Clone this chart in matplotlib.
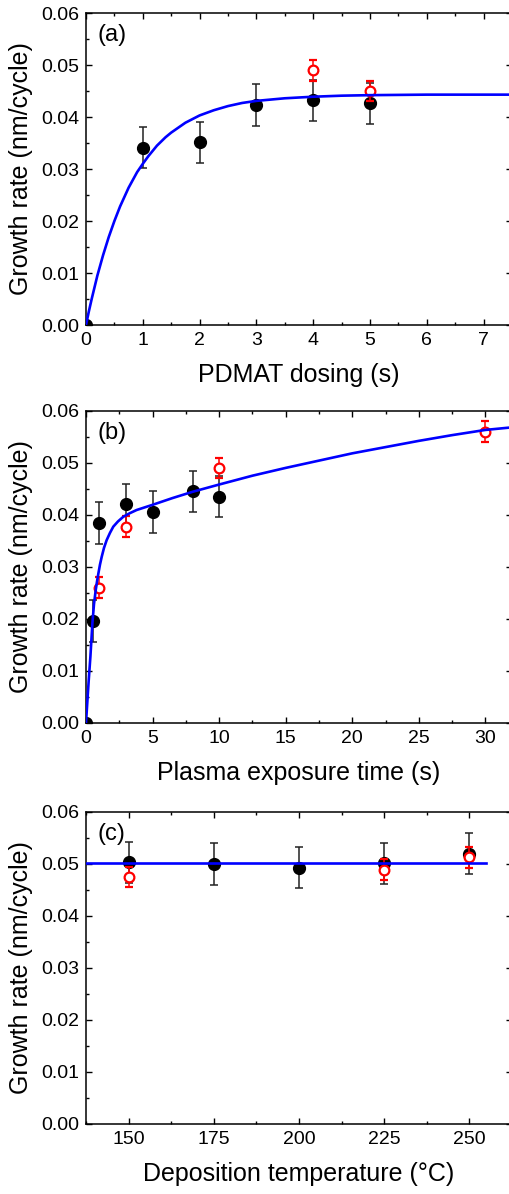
import numpy as np
import matplotlib
matplotlib.use("Agg")
import matplotlib.pyplot as plt
from matplotlib.ticker import MultipleLocator, AutoMinorLocator

plt.rcParams['font.family'] = ['Liberation Sans', 'DejaVu Sans']

# (a) PDMAT dosing
dose_black = [0, 1, 2, 3, 4, 5]
gpc_dose_black = [0.0, 0.0341, 0.0351, 0.0423, 0.0432, 0.0426]
err_dose_black = [0.0, 0.004, 0.004, 0.004, 0.004, 0.004]
dose_red = [4, 5]
gpc_dose_red = [0.0490, 0.0450]
err_dose_red = [0.002, 0.002]
fit_dose_x = [0, 0.05, 0.1, 0.2, 0.3, 0.4, 0.5, 0.6, 0.75, 0.9, 1.0, 1.1, 1.25, 1.4, 1.5,
              1.75, 2.0, 2.25, 2.5, 2.75, 3.0, 3.5, 4.0, 4.5, 5.0, 6.0, 7.5]
fit_dose_y = [0, 0.0026, 0.0050, 0.0095, 0.0134, 0.0169, 0.0200, 0.0228, 0.0264, 0.0294,
              0.0310, 0.0325, 0.0345, 0.0361, 0.0370, 0.0389, 0.0403, 0.0413, 0.0421, 0.0427,
              0.0431, 0.0436, 0.0439, 0.0441, 0.0442, 0.0443, 0.0443]

# (b) plasma exposure time
plasma_black = [0, 0.5, 1, 3, 5, 8, 10]
gpc_plasma_black = [0.0, 0.0196, 0.0384, 0.0420, 0.0405, 0.0445, 0.0435]
err_plasma_black = [0.0, 0.004, 0.004, 0.004, 0.004, 0.004, 0.004]
plasma_red = [1, 3, 10, 30]
gpc_plasma_red = [0.0260, 0.0377, 0.0490, 0.0560]
err_plasma_red = [0.002, 0.002, 0.002, 0.002]
fit_plasma_x = [0, 0.1, 0.2, 0.33, 0.48, 0.6, 0.73, 0.83, 0.93, 1.05, 1.18, 1.35, 1.55, 1.8,
                2.05, 2.4, 2.8, 3.3, 3.8, 4.4, 5.0, 6.5, 8, 10, 12.5, 15, 17.5, 20, 22.5, 25,
                27.5, 30, 32]
fit_plasma_y = [0, 0.0040, 0.0080, 0.0127, 0.0191, 0.0228, 0.0255, 0.0272, 0.0287, 0.0304,
                0.0319, 0.0336, 0.0351, 0.0365, 0.0377, 0.0387, 0.0396, 0.0403, 0.0409, 0.0414,
                0.0419, 0.0432, 0.0444, 0.0458, 0.0475, 0.0490, 0.0504, 0.0518, 0.0530, 0.0542,
                0.0553, 0.0563, 0.0568]

# (c) deposition temperature
temp_black = [150, 175, 200, 225, 250]
gpc_temp_black = [0.0503, 0.0500, 0.0493, 0.0501, 0.0520]
err_temp_black = [0.004, 0.004, 0.004, 0.004, 0.004]
temp_red = [150, 225, 250]
gpc_temp_red = [0.0475, 0.0489, 0.0513]
err_temp_red = [0.002, 0.002, 0.002]
fit_temp_x = [137.5, 255]
fit_temp_y = [0.0501, 0.0501]

fig = plt.figure(figsize=(5.09, 11.94), dpi=100)
left, width = 86 / 509, 426 / 509
boxes = [(1 - 325 / 1194), (1 - 722.7 / 1194), (1 - 1124 / 1194)]
h = 312 / 1194

panels = [
    dict(bx=dose_black, by=gpc_dose_black, be=err_dose_black,
         rx=dose_red, ry=gpc_dose_red, re=err_dose_red,
         fx=fit_dose_x, fy=fit_dose_y, xlim=(0, 7.5), major=1, xlabel='PDMAT dosing (s)', tag='(a)'),
    dict(bx=plasma_black, by=gpc_plasma_black, be=err_plasma_black,
         rx=plasma_red, ry=gpc_plasma_red, re=err_plasma_red,
         fx=fit_plasma_x, fy=fit_plasma_y, xlim=(0, 32), major=5, xlabel='Plasma exposure time (s)', tag='(b)'),
    dict(bx=temp_black, by=gpc_temp_black, be=err_temp_black,
         rx=temp_red, ry=gpc_temp_red, re=err_temp_red,
         fx=fit_temp_x, fy=fit_temp_y, xlim=(137.5, 262.5), major=25,
         xlabel='Deposition temperature (°C)', tag='(c)'),
]

for p, b in zip(panels, boxes):
    ax = fig.add_axes([left, b, width, h])
    ax.errorbar(p['bx'], p['by'], yerr=p['be'], fmt='o', color='black', ms=8.5,
                ecolor='#222222', elinewidth=1.1, capsize=3, capthick=1.1, zorder=3)
    ax.errorbar(p['rx'], p['ry'], yerr=p['re'], fmt='o', color='red', mfc='white', mec='red',
                mew=1.6, ms=7, ecolor='red', elinewidth=1.1, capsize=3, capthick=1.1, zorder=4)
    ax.plot(p['fx'], p['fy'], color='#0000ff', lw=1.9, zorder=5)
    ax.set_xlim(*p['xlim'])
    ax.set_ylim(0, 0.06)
    ax.xaxis.set_major_locator(MultipleLocator(p['major']))
    ax.xaxis.set_minor_locator(AutoMinorLocator(2))
    ax.yaxis.set_major_locator(MultipleLocator(0.01))
    ax.yaxis.set_minor_locator(AutoMinorLocator(2))
    ax.yaxis.set_major_formatter(plt.FormatStrFormatter('%.2f'))
    ax.tick_params(which='both', direction='in', top=True, right=True, labelsize=14, width=1)
    ax.tick_params(which='major', length=4.5, pad=5)
    ax.tick_params(which='minor', length=2.5)
    for s in ax.spines.values():
        s.set_linewidth(1.1)
    ax.set_xlabel(p['xlabel'], fontsize=18, labelpad=10)
    ax.set_ylabel('Growth rate (nm/cycle)', fontsize=18, labelpad=6)
    ax.text(0.027, 0.93, p['tag'], transform=ax.transAxes, fontsize=17, va='center', ha='left')

fig.savefig('out.png', dpi=100)
